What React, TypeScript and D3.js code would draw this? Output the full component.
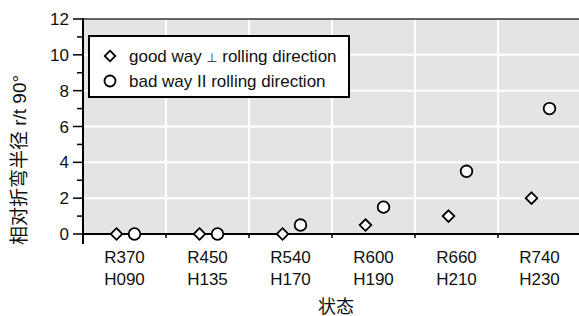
import React from 'react';
import * as d3 from 'd3';

const categories = [
  ['R370', 'H090'],
  ['R450', 'H135'],
  ['R540', 'H170'],
  ['R600', 'H190'],
  ['R660', 'H210'],
  ['R740', 'H230'],
];
const goodWay = [0, 0, 0, 0.5, 1, 2];
const badWay = [0, 0, 0.5, 1.5, 3.5, 7];
const yMajor = [0, 2, 4, 6, 8, 10, 12];
const yMinor = [1, 3, 5, 7, 9, 11];

const W = 579;
const H = 316;
const m = { left: 83, right: 581, top: 19, bottom: 234 };
const FONT = '"Liberation Sans", Arial, "Noto Sans CJK SC", sans-serif';

const App = () => {
  const names = categories.map(c => c.join(' '));
  const x = d3.scaleBand().domain(names).range([m.left, m.right]).padding(0);
  const y = d3.scaleLinear().domain([0, 12]).range([m.bottom, m.top]);
  const cx = (i: number) => (x(names[i]) as number) + x.bandwidth() / 2;
  const bounds = names.slice(1).map(n => x(n) as number);

  const diamond = (px: number, py: number, r = 5.8) =>
    `M${px},${py - r}L${px + r},${py}L${px},${py + r}L${px - r},${py}Z`;

  return (
    <svg width={W} height={H} style={{ display: 'block', position: 'absolute', left: 0, top: 0 }} fontFamily={FONT}>
      <rect x={m.left} y={m.top} width={m.right - m.left} height={m.bottom - m.top} fill="#e4e4e4" />
      {yMajor.filter(v => v > 0 && v < 12).map(v => (
        <line key={'hg' + v} x1={m.left} x2={m.right} y1={y(v)} y2={y(v)} stroke="#fff" strokeWidth={2} />
      ))}
      {bounds.map((b, i) => (
        <line key={'vg' + i} x1={b} x2={b} y1={m.top} y2={m.bottom} stroke="#fff" strokeWidth={2} />
      ))}
      <line x1={m.left} x2={m.right} y1={m.top} y2={m.top} stroke="#333" strokeWidth={1.5} />

      {/* y axis */}
      <line x1={m.left} x2={m.left} y1={m.top - 1} y2={m.bottom + 10} stroke="#000" strokeWidth={2} />
      {yMajor.map(v => (
        <g key={'yt' + v}>
          <line x1={m.left - 10} x2={m.left} y1={y(v)} y2={y(v)} stroke="#000" strokeWidth={1.5} />
          <text x={m.left - 14} y={y(v)} dy="0.36em" textAnchor="end" fontSize={17} fill="#111">{v}</text>
        </g>
      ))}
      {yMinor.map(v => (
        <line key={'ym' + v} x1={m.left - 6} x2={m.left} y1={y(v)} y2={y(v)} stroke="#000" strokeWidth={1.5} />
      ))}

      {/* x axis */}
      <line x1={m.left} x2={m.right} y1={m.bottom} y2={m.bottom} stroke="#000" strokeWidth={2} />
      {bounds.map((b, i) => (
        <line key={'xt' + i} x1={b} x2={b} y1={m.bottom} y2={m.bottom + 4} stroke="#000" strokeWidth={1.5} />
      ))}
      {categories.map((c, i) => (
        <text key={'xl' + i} x={cx(i)} textAnchor="middle" fontSize={17} fill="#111">
          <tspan x={cx(i)} y={263}>{c[0]}</tspan>
          <tspan x={cx(i)} y={285}>{c[1]}</tspan>
        </text>
      ))}

      {/* titles */}
      <text transform="translate(26,160) rotate(-90)" textAnchor="middle" fontSize={19} fill="#111">相对折弯半径 r/t 90°</text>
      <text x={336} y={313} textAnchor="middle" fontSize={18} fill="#111">状态</text>

      {/* points */}
      {goodWay.map((v, i) => (
        <path key={'g' + i} d={diamond(cx(i) - 8, y(v))} fill="#fff" stroke="#000" strokeWidth={1.8} />
      ))}
      {badWay.map((v, i) => (
        <circle key={'b' + i} cx={cx(i) + 10} cy={y(v)} r={5.8} fill="#fff" stroke="#000" strokeWidth={1.8} />
      ))}

      {/* legend */}
      <rect x={89} y={36} width={260} height={61} fill="#fff" stroke="#000" strokeWidth={2} />
      <path d={diamond(110, 56, 5.3)} fill="#fff" stroke="#000" strokeWidth={1.8} />
      <text x={129} y={62} fontSize={17} fill="#111">
        good way <tspan fontSize={11}>⊥</tspan> rolling direction
      </text>
      <circle cx={110} cy={81} r={5.5} fill="#fff" stroke="#000" strokeWidth={1.8} />
      <text x={129} y={87} fontSize={17} fill="#111">bad way II rolling direction</text>
    </svg>
  );
};

export default App;
